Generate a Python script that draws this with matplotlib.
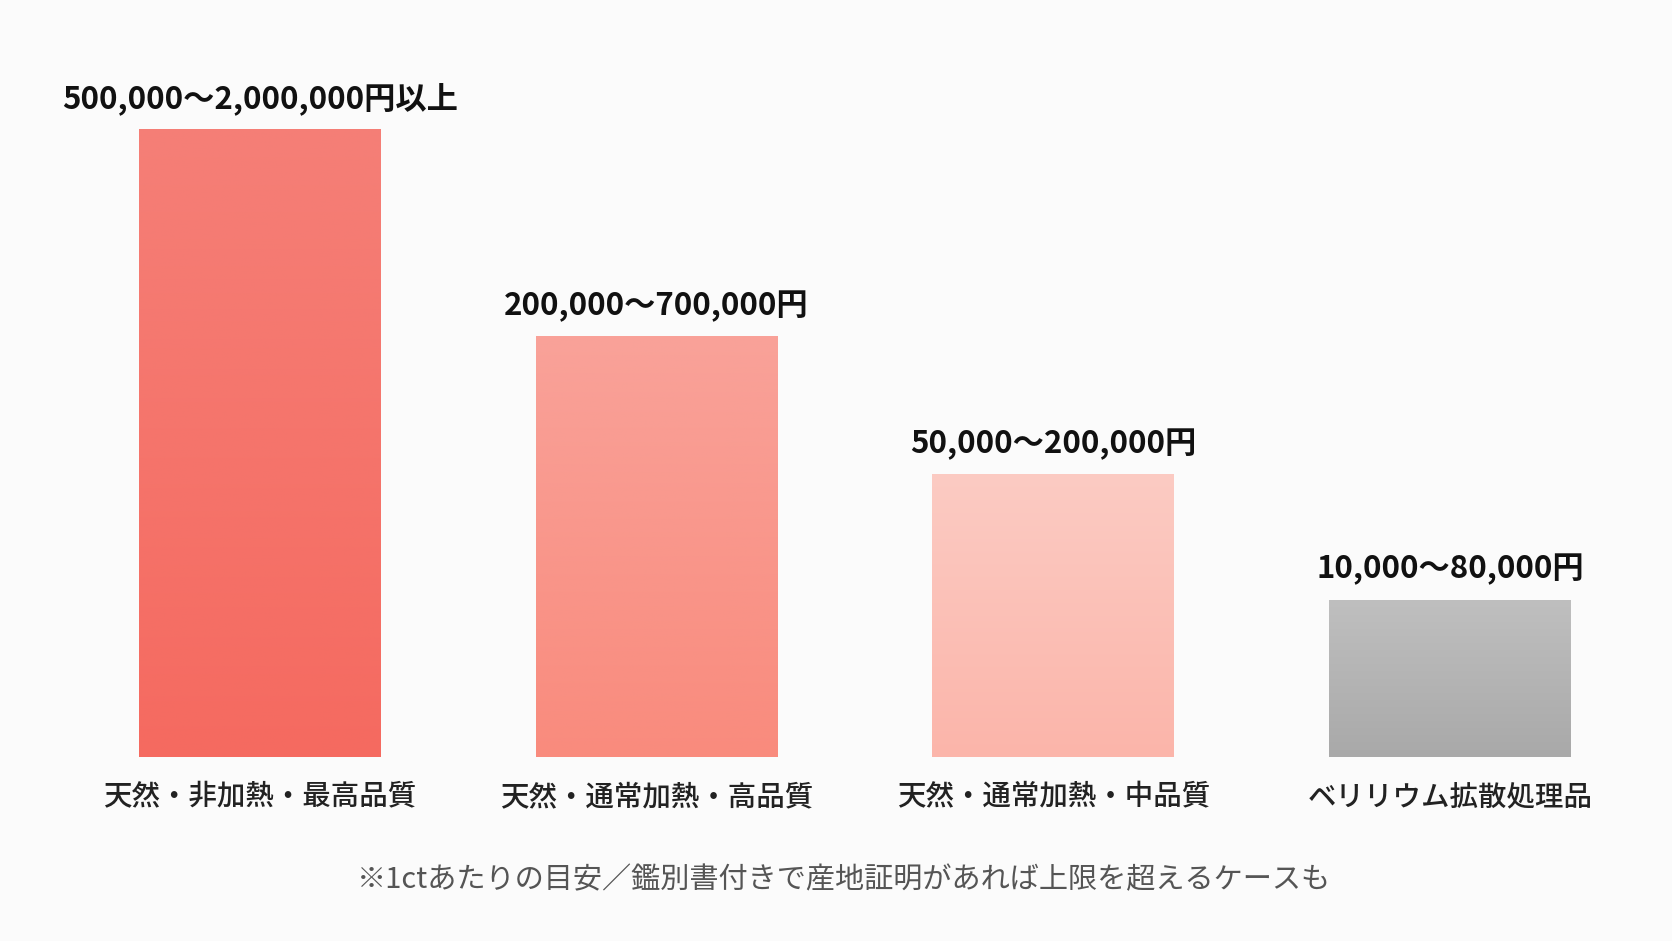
import numpy as np
import matplotlib
matplotlib.use("Agg")
import matplotlib.pyplot as plt
from matplotlib.colors import LinearSegmentedColormap

plt.rcParams['font.family'] = ['Noto Sans CJK JP', 'DejaVu Sans']

# data (relative bar heights)
categories = ["天然・非加熱・最高品質", "天然・通常加熱・高品質", "天然・通常加熱・中品質", "ベリリウム拡散処理品"]
heights = [100, 67, 45, 25]
price_labels = ["500,000〜2,000,000円以上", "200,000〜700,000円", "50,000〜200,000円", "10,000〜80,000円"]
top_colors = ["#F57F77", "#F9A299", "#FCCBC3", "#BFBFBF"]
bottom_colors = ["#F56A60", "#F98B7D", "#FBB5AA", "#A9A9A9"]
note = "※1ctあたりの目安／鑑別書付きで産地証明があれば上限を超えるケースも"

bg = "#FBFBFB"
fig = plt.figure(figsize=(16.72, 9.41), dpi=100, facecolor=bg)
ax = fig.add_axes([0, 184 / 941, 1, 757 / 941])
ax.set_facecolor(bg)

x = np.arange(len(categories))
width = 0.61
bars = ax.bar(x, heights, width=width, color="none", edgecolor="none")

# vertical gradient inside every bar
for b, c_top, c_bot in zip(bars, top_colors, bottom_colors):
    cmap = LinearSegmentedColormap.from_list("g", [c_bot, c_top])
    grad = np.linspace(0, 1, 256).reshape(-1, 1)
    x0, y0 = b.get_x(), b.get_y()
    img = ax.imshow(grad, cmap=cmap, origin="lower", aspect="auto",
                    extent=[x0, x0 + b.get_width(), y0, y0 + b.get_height()],
                    interpolation="bicubic", zorder=2)
    img.set_clip_path(b)

for xi, h, lab in zip(x, heights, price_labels):
    ax.annotate(lab, (xi, h), xytext=(0, 22), textcoords="offset points",
                ha="center", va="center", fontsize=22.5, fontweight="bold", color="#111111")

ax.set_xlim(-0.6556, 3.560)
ax.set_ylim(0, 100 * 757 / 628)
ax.set_xticks(x)
ax.set_xticklabels(categories, fontsize=20.5, color="#222222", fontweight="medium")
ax.tick_params(axis="x", length=0, pad=18)
ax.set_yticks([])
for s in ax.spines.values():
    s.set_visible(False)

fig.text(844 / 1672, 1 - 880 / 941, note, ha="center", va="center", fontsize=21, color="#555555")

fig.savefig("out.png", dpi=100, facecolor=bg)
